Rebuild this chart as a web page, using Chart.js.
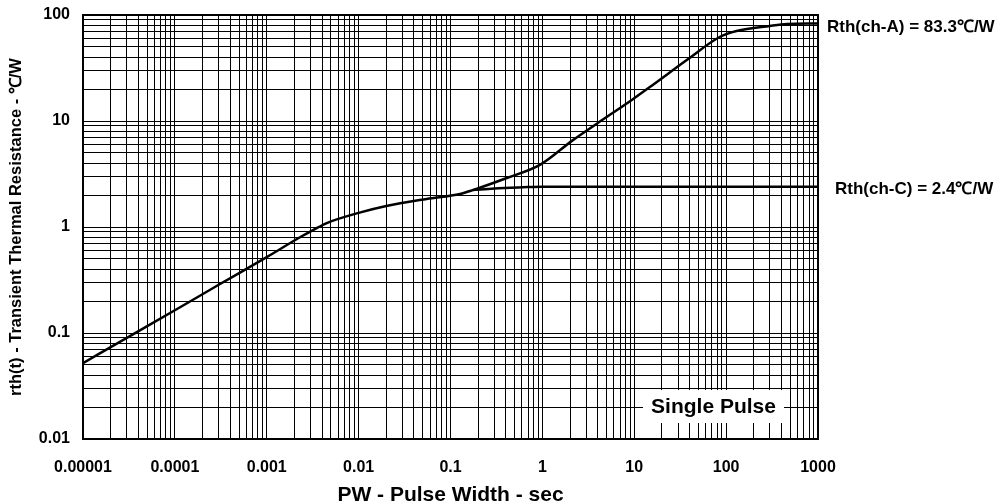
<!DOCTYPE html>
<html>
<head>
<meta charset="utf-8">
<script src="https://cdn.jsdelivr.net/npm/chart.js@4.4.1/dist/chart.umd.min.js"></script>
<style>
  html, body { margin: 0; padding: 0; background: #fff; }
  #wrap { width: 1007px; height: 504px; }
</style>
</head>
<body>
<div id="wrap"><canvas id="c" width="1007" height="504"></canvas></div>
<script>
// ---- Data ----
const pulseWidthA = [1e-5, 3e-5, 1e-4, 3e-4, 1e-3, 2.3e-3, 3.3e-3, 4.5e-3, 0.01, 0.02, 0.055, 0.127, 0.175, 0.41, 0.94, 2.15, 5.0, 9.4, 15.9, 37.3, 85, 130, 300, 460, 1000];
const rthA        = [0.052, 0.09, 0.164, 0.285, 0.52, 0.80, 0.95, 1.09, 1.36, 1.58, 1.84, 2.05, 2.23, 2.9, 3.85, 6.6, 10.9, 15.8, 21.9, 37.6, 62, 70.6, 78.8, 82.2, 83.3];
const pulseWidthC = [0.175, 0.3, 0.614, 1, 3, 1000];
const rthC        = [2.23, 2.31, 2.37, 2.4, 2.4, 2.4];

const xTickValues = [1e-5, 1e-4, 1e-3, 1e-2, 0.1, 1, 10, 100, 1000];
const xTickLabels = ['0.00001', '0.0001', '0.001', '0.01', '0.1', '1', '10', '100', '1000'];
const yTickValues = [0.01, 0.1, 1, 10, 100];
const yTickLabels = ['0.01', '0.1', '1', '10', '100'];

const labelA = 'Rth(ch-A) = 83.3\u2103/W';
const labelC = 'Rth(ch-C) = 2.4\u2103/W';
const rthAFinal = 83.3;
const rthCFinal = 2.4;
const boxLabel = 'Single Pulse';
const xTitle = 'PW - Pulse Width - sec';
const yTitle = 'rth(t) - Transient Thermal Resistance - \u2103/W';

const FONT = '"Liberation Sans", Arial, Helvetica, sans-serif';

function allTicks(decades) {
  const out = [];
  for (let i = 0; i < decades.length; i++) {
    out.push({ value: decades[i], major: true });
    if (i < decades.length - 1) {
      for (let k = 2; k <= 9; k++) out.push({ value: k * decades[i], major: false });
    }
  }
  return out;
}
function labelFor(values, labels, v) {
  const i = values.findIndex(d => Math.abs(d - v) / d < 1e-6);
  return i >= 0 ? labels[i] : '';
}

const toPts = (xs, ys) => xs.map((x, i) => ({ x: x, y: ys[i] }));

const decor = {
  id: 'decor',
  beforeDatasetsDraw(chart) {
    const { ctx, chartArea: a } = chart;
    ctx.save();
    // Single Pulse box
    const bx0 = a.right - 175, bx1 = a.right - 34;
    const by0 = a.bottom - 49, by1 = a.bottom - 16;
    ctx.fillStyle = '#fff';
    ctx.fillRect(bx0, by0, bx1 - bx0, by1 - by0);
    ctx.fillStyle = '#000';
    ctx.font = 'bold 21px ' + FONT;
    ctx.textAlign = 'center';
    ctx.textBaseline = 'middle';
    ctx.fillText(boxLabel, (bx0 + bx1) / 2, (by0 + by1) / 2 + 1);
    // frame
    ctx.strokeStyle = '#000';
    ctx.lineWidth = 2;
    ctx.strokeRect(a.left, a.top, a.right - a.left, a.bottom - a.top);
    ctx.restore();
  },
  afterDraw(chart) {
    const { ctx, chartArea: a } = chart;
    const ys = chart.scales.y;
    ctx.save();
    ctx.fillStyle = '#000';
    ctx.font = 'bold 17px ' + FONT;
    ctx.textAlign = 'left';
    ctx.textBaseline = 'middle';
    ctx.fillText(labelA, a.right + 9, ys.getPixelForValue(rthAFinal) + 3.5);
    ctx.fillText(labelC, a.right + 17, ys.getPixelForValue(rthCFinal) + 3);
    ctx.restore();
  }
};

new Chart(document.getElementById('c'), {
  type: 'line',
  data: {
    datasets: [
      { data: toPts(pulseWidthA, rthA), borderColor: '#000', borderWidth: 2.5, pointRadius: 0, cubicInterpolationMode: 'monotone', fill: false },
      { data: toPts(pulseWidthC, rthC), borderColor: '#000', borderWidth: 2.5, pointRadius: 0, cubicInterpolationMode: 'monotone', fill: false }
    ]
  },
  options: {
    responsive: false,
    animation: false,
    devicePixelRatio: 1,
    layout: { padding: { top: 15, right: 189, bottom: 0, left: 0 } },
    plugins: { legend: { display: false }, tooltip: { enabled: false } },
    scales: {
      x: {
        type: 'logarithmic',
        min: 1e-5, max: 1000,
        afterBuildTicks: s => { s.ticks = allTicks(xTickValues); },
        afterFit: s => { s.height = 65; s.paddingLeft = 0; s.paddingRight = 0; },
        grid: { color: '#000', lineWidth: 1, drawTicks: false },
        border: { display: false },
        ticks: {
          autoSkip: false, maxRotation: 0, minRotation: 0, padding: 19,
          color: '#000', font: { family: FONT, size: 16, weight: 'bold' },
          callback: v => labelFor(xTickValues, xTickLabels, v)
        },
        title: { display: true, text: xTitle, color: '#000', font: { family: FONT, size: 21, weight: 'bold', lineHeight: 0.8 }, padding: { top: 0, bottom: 0 } }
      },
      y: {
        type: 'logarithmic',
        min: 0.01, max: 100,
        afterBuildTicks: s => { s.ticks = allTicks(yTickValues); },
        afterFit: s => { s.width = 83; s.paddingTop = 0; s.paddingBottom = 0; },
        grid: { color: '#000', lineWidth: 1, drawTicks: false },
        border: { display: false },
        ticks: {
          autoSkip: false, padding: 13,
          color: '#000', font: { family: FONT, size: 16, weight: 'bold' },
          callback: v => labelFor(yTickValues, yTickLabels, v)
        },
        title: { display: true, text: yTitle, color: '#000', font: { family: FONT, size: 16.5, weight: 'bold' }, padding: { top: 7, bottom: 0 } }
      }
    }
  },
  plugins: [decor]
});
</script>
</body>
</html>
